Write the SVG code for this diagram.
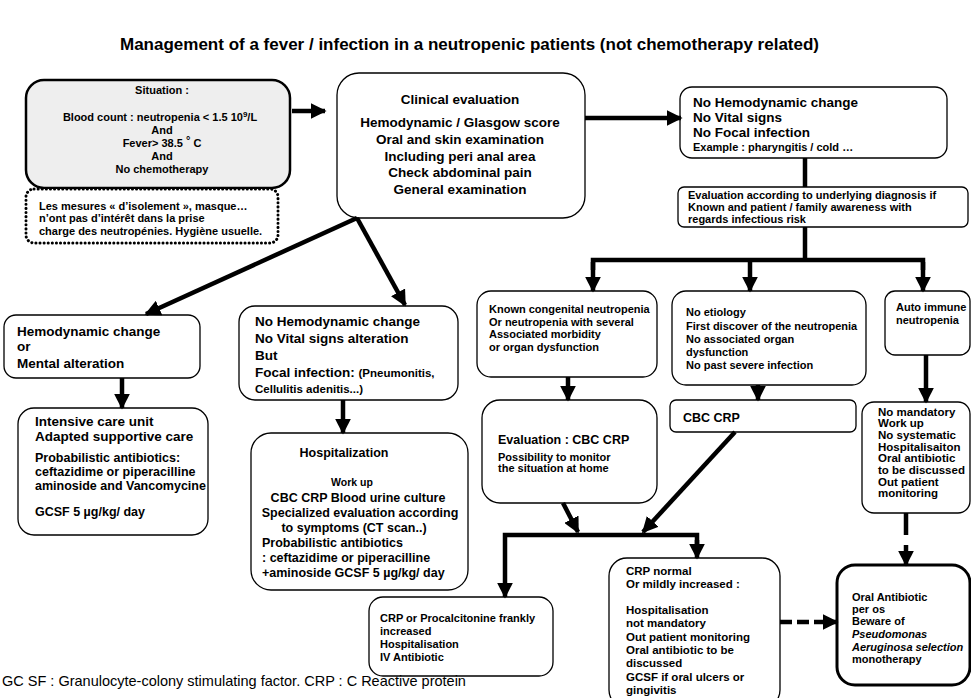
<svg xmlns="http://www.w3.org/2000/svg" width="971" height="698" viewBox="0 0 971 698">
<style>
text{font-family:"Liberation Sans",Arial,sans-serif;font-weight:bold;fill:#000}
.box{fill:#fff;stroke:#000;stroke-width:1.3}
.c{text-anchor:middle}
.f13{font-size:13.5px}.f12{font-size:12.5px}.f11{font-size:11px}.f115{font-size:11.5px}
.con{stroke:#000;stroke-width:4.5;fill:none}
</style>
<defs>
<marker id="ah" viewBox="0 0 10 10" refX="9" refY="5" markerWidth="16" markerHeight="16" markerUnits="userSpaceOnUse" orient="auto">
<path d="M0,0 L10,5 L0,10 z" fill="#000"/>
</marker>
</defs>
<text x="120" y="50" style="font-size:17px">Management of a fever / infection in a neutropenic patients (not chemotherapy related)</text>

<g id="situation">
<rect x="26" y="80" width="264" height="108" rx="18" fill="#eeeeee" stroke="#000" stroke-width="2.5"/>
<text class="c f11" x="162" y="94">Situation :</text>
<text class="c f11" x="160" y="121">Blood count : neutropenia &lt; 1.5 10<tspan font-size="8" dy="-4">9</tspan><tspan dy="4">/L</tspan></text>
<text class="c f11" x="162" y="134">And</text>
<text class="c f11" x="162" y="147">Fever&gt; 38.5 <tspan dy="-3">°</tspan><tspan dy="3"> C</tspan></text>
<text class="c f11" x="162" y="160">And</text>
<text class="c f11" x="162" y="173">No chemotherapy</text>
</g>
<g id="isolement">
<rect x="26" y="189" width="252" height="54" rx="8" fill="#fff" stroke="#000" stroke-width="3" stroke-dasharray="0.1 4" stroke-linecap="round"/>
<text class="f11" x="39" y="210">Les mesures « d’isolement », masque…</text>
<text class="f11" x="39" y="222">n’ont pas d’intérêt dans la prise</text>
<text class="f11" x="39" y="235">charge des neutropénies.  Hygiène usuelle.</text>
</g>
<g id="clinical">
<rect class="box" x="337" y="73" width="248" height="145" rx="22"/>
<text class="c f13" x="460" y="104">Clinical evaluation</text>
<text class="c f13" x="460" y="127">Hemodynamic / Glasgow score</text>
<text class="c f13" x="460" y="144">Oral and skin examination</text>
<text class="c f13" x="460" y="161">Including peri anal area</text>
<text class="c f13" x="460" y="177">Check abdominal pain</text>
<text class="c f13" x="460" y="194">General examination</text>
</g>
<g id="nohemo-top">
<rect class="box" x="680" y="87" width="267" height="71" rx="12"/>
<text class="f13" x="693" y="107">No Hemodynamic change</text>
<text class="f13" x="693" y="122">No Vital signs</text>
<text class="f13" x="693" y="137">No Focal infection</text>
<text class="f11" x="693" y="151">Example : pharyngitis / cold …</text>
</g>
<g id="eval-underlying">
<rect class="box" x="678" y="187" width="290" height="40" rx="6"/>
<text class="f11" x="688" y="199">Evaluation according to underlying diagnosis if</text>
<text class="f11" x="688" y="211">Known and patient / family awareness with</text>
<text class="f11" x="688" y="223">regards infectious risk</text>
</g>
<g id="hemo-change">
<rect class="box" x="4" y="315" width="196" height="63" rx="12"/>
<text class="f13" x="17" y="336">Hemodynamic change</text>
<text class="f13" x="17" y="351"> or</text>
<text class="f13" x="17" y="368">Mental alteration</text>
</g>
<g id="icu">
<rect class="box" x="18" y="408" width="190" height="127" rx="16"/>
<text class="f13" x="35" y="426">Intensive care unit</text>
<text class="f13" x="35" y="441">Adapted supportive care</text>
<text class="f12" x="35" y="462">Probabilistic antibiotics:</text>
<text class="f12" x="35" y="476">ceftazidime or piperacilline</text>
<text class="f12" x="35" y="490">aminoside and Vancomycine</text>
<text class="f12" x="35" y="516">GCSF 5 µg/kg/ day</text>
</g>
<g id="focal">
<rect class="box" x="239" y="306" width="219" height="94" rx="16"/>
<text class="f13" x="255" y="326">No Hemodynamic change</text>
<text class="f13" x="255" y="343">No Vital signs alteration</text>
<text class="f13" x="255" y="360">But</text>
<text class="f13" x="255" y="377">Focal infection: <tspan font-size="11.5">(Pneumonitis,</tspan></text>
<text class="f115" x="255" y="393">Cellulitis adenitis...)</text>
</g>
<g id="hospitalization">
<rect class="box" x="251" y="433" width="217" height="157" rx="20"/>
<text class="c f12" x="344" y="457">Hospitalization</text>
<text class="c" x="352" y="486" style="font-size:10.5px">Work up</text>
<text class="c f12" x="358" y="502">CBC CRP Blood urine culture</text>
<text class="c f12" x="360" y="517">Specialized evaluation according</text>
<text class="c f12" x="354" y="532">to symptoms (CT scan..)</text>
<text class="f12" x="262" y="547">Probabilistic antibiotics</text>
<text class="f12" x="262" y="562">: ceftazidime or piperacilline</text>
<text class="f12" x="262" y="577">+aminoside GCSF 5 µg/kg/ day</text>
</g>
<g id="congenital">
<rect class="box" x="477" y="291" width="180" height="86" rx="14"/>
<text class="f11" x="489" y="313">Known congenital  neutropenia</text>
<text class="f11" x="489" y="326">Or neutropenia  with several</text>
<text class="f11" x="489" y="338">Associated morbidity</text>
<text class="f11" x="489" y="351"> or organ dysfunction</text>
</g>
<g id="no-etiology">
<rect class="box" x="672" y="291" width="194" height="94" rx="14"/>
<text class="f11" x="686" y="316">No etiology</text>
<text class="f11" x="686" y="330">First discover of the neutropenia</text>
<text class="f11" x="686" y="343">No associated  organ</text>
<text class="f11" x="686" y="356">dysfunction</text>
<text class="f11" x="686" y="369">No past severe infection</text>
</g>
<g id="autoimmune">
<rect class="box" x="885" y="291" width="85" height="64" rx="10"/>
<text class="f11" x="896" y="311">Auto immune</text>
<text class="f11" x="896" y="324">neutropenia</text>
</g>
<g id="eval-cbc">
<rect class="box" x="482" y="400" width="175" height="103" rx="18"/>
<text class="f12" x="498" y="444">Evaluation : CBC CRP</text>
<text class="f11" x="498" y="461">Possibility  to monitor</text>
<text class="f11" x="498" y="472"> the situation at home</text>
</g>
<g id="cbc-crp">
<rect class="box" x="670" y="400" width="186" height="32" rx="6"/>
<text class="f12" x="683" y="422">CBC CRP</text>
</g>
<g id="no-mandatory">
<rect class="box" x="862" y="402" width="108" height="111" rx="12"/>
<text class="f115" x="878" y="416">No mandatory</text>
<text class="f115" x="878" y="427">Work up</text>
<text class="f115" x="878" y="439">No systematic</text>
<text class="f115" x="878" y="451">Hospitalisaiton</text>
<text class="f115" x="878" y="462">Oral antibiotic</text>
<text class="f115" x="878" y="474">to be discussed</text>
<text class="f115" x="878" y="486">Out patient</text>
<text class="f115" x="878" y="497">monitoring</text>
</g>
<g id="crp-frankly">
<rect class="box" x="369" y="597" width="184" height="79" rx="14"/>
<text class="f11" x="380" y="622">CRP or Procalcitonine  frankly</text>
<text class="f11" x="380" y="635"> increased</text>
<text class="f11" x="380" y="648">Hospitalisation</text>
<text class="f11" x="380" y="661">IV Antibiotic</text>
</g>
<g id="crp-normal">
<rect class="box" x="609" y="558" width="171" height="150" rx="18"/>
<text class="f115" x="626" y="575">CRP  normal</text>
<text class="f115" x="626" y="588">Or mildly  increased  :</text>
<text class="f115" x="626" y="614">Hospitalisation</text>
<text class="f115" x="626" y="627"> not mandatory</text>
<text class="f115" x="626" y="641"> Out patient  monitoring</text>
<text class="f115" x="626" y="654">Oral antibiotic to be</text>
<text class="f115" x="626" y="667"> discussed</text>
<text class="f115" x="626" y="681">GCSF if oral ulcers or</text>
<text class="f115" x="626" y="694"> gingivitis</text>
</g>
<g id="oral-antibiotic">
<rect x="837" y="565" width="133" height="120" rx="18" fill="#fff" stroke="#000" stroke-width="3"/>
<text class="f11" x="852" y="601">Oral Antibiotic</text>
<text class="f11" x="852" y="613">per os</text>
<text class="f11" x="852" y="625">Beware  of</text>
<text class="f11" x="852" y="638" font-style="italic">Pseudomonas</text>
<text class="f11" x="852" y="651" font-style="italic">Aeruginosa selection</text>
<text class="f11" x="852" y="663">monotherapy</text>
</g>
<text x="2" y="686" style="font-weight:normal;font-size:14.5px">GC SF : Granulocyte-colony stimulating factor. CRP : C Reactive protein</text>

<g id="connectors">
<line class="con" x1="292" y1="111" x2="325" y2="111" stroke-width="6" marker-end="url(#ah)"/>
<line class="con" x1="585" y1="118" x2="681" y2="118" marker-end="url(#ah)"/>
<line class="con" x1="805" y1="158" x2="805" y2="187"/>
<path class="con" d="M357,218 L146,314" marker-end="url(#ah)"/>
<path class="con" d="M357,218 L405,305" marker-end="url(#ah)"/>
<line class="con" x1="122" y1="378" x2="122" y2="408" marker-end="url(#ah)"/>
<line class="con" x1="343" y1="400" x2="343" y2="433" marker-end="url(#ah)"/>
<path class="con" d="M805,227 L805,260"/>
<path class="con" d="M593,270 L593,260 L923,260 L923,270"/>
<line class="con" x1="593" y1="262" x2="593" y2="291" marker-end="url(#ah)"/>
<line class="con" x1="750" y1="260" x2="750" y2="291" marker-end="url(#ah)"/>
<line class="con" x1="923" y1="262" x2="923" y2="291" marker-end="url(#ah)"/>
<line class="con" x1="568" y1="377" x2="568" y2="400" marker-end="url(#ah)"/>
<line class="con" x1="758" y1="385" x2="758" y2="400" marker-end="url(#ah)"/>
<line class="con" x1="926" y1="355" x2="926" y2="402" marker-end="url(#ah)"/>
<line class="con" x1="563" y1="503" x2="578" y2="532" marker-end="url(#ah)"/>
<line class="con" x1="735" y1="432" x2="643" y2="532" marker-end="url(#ah)"/>
<path class="con" d="M505,570 L505,535 L697,535 L697,545"/>
<line class="con" x1="505" y1="570" x2="505" y2="597" marker-end="url(#ah)"/>
<line class="con" x1="697" y1="540" x2="697" y2="558" marker-end="url(#ah)"/>
<line class="con" x1="780" y1="622" x2="837" y2="622" stroke-dasharray="12 5" marker-end="url(#ah)"/>
<line class="con" x1="906" y1="513" x2="906" y2="565" stroke-dasharray="22 10" marker-end="url(#ah)"/>
</g>
</svg>
